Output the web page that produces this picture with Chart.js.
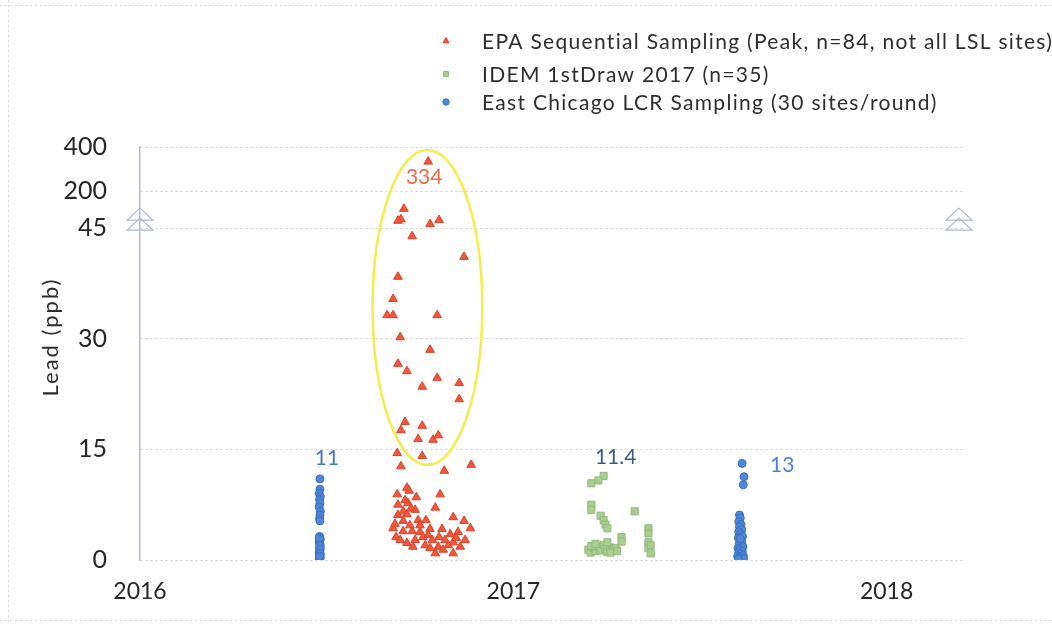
<!DOCTYPE html>
<html>
<head>
<meta charset="utf-8">
<script src="https://cdn.jsdelivr.net/npm/chart.js@4.4.1/dist/chart.umd.min.js"></script>
<style>
html,body{margin:0;padding:0;background:#ffffff;}
#wrap{width:1052px;height:625px;position:relative;}
</style>
</head>
<body>
<div id="wrap"><canvas id="c"></canvas></div>
<script>
// ---------- data ----------
const seriesNames = [
  'EPA Sequential Sampling (Peak, n=84, not all LSL sites)',
  'IDEM 1stDraw 2017 (n=35)',
  'East Chicago LCR Sampling (30 sites/round)'
];
const yAxisTitle = 'Lead (ppb)';
const xTickValues = [2016, 2017, 2018];
const xTickLabels = ['2016', '2017', '2018'];
const yTickValues = [0, 15, 30, 45, 200, 400];
const yTickLabels = ['0', '15', '30', '45', '200', '400'];

const epaDates = [
  2016.772,2016.707,2016.699,2016.691,2016.777,2016.801,2016.729,2016.868,2016.691,2016.678,
  2016.662,2016.678,2016.796,2016.697,2016.777,2016.691,2016.715,2016.796,2016.855,2016.756,
  2016.855,2016.710,2016.756,2016.699,2016.745,2016.799,2016.785,2016.689,2016.756,2016.699,
  2016.815,2016.887,2016.715,2016.721,2016.689,2016.740,2016.804,2016.691,2016.718,2016.791,
  2016.705,2016.715,2016.745,2016.705,2016.839,2016.868,2016.885,2016.678,2016.686,2016.705,
  2016.729,2016.750,2016.758,2016.777,2016.809,2016.801,2016.831,2016.852,2016.715,2016.737,
  2016.783,2016.839,2016.858,2016.731,2016.799,2016.791,2016.839,2016.723,2016.764,2016.817,
  2016.772,2016.697,2016.826,2016.710,2016.737,2016.750,2016.691,2016.777,2016.812,2016.847,
  2016.871,2016.726,2016.766,2016.683
];
const epaLead = [
  334,126,82,76,62,79,43.9,41.1,38.4,35.4,
  33.2,33.2,33.2,30.2,28.5,26.6,25.6,24.7,24.0,23.5,
  21.8,18.7,18.2,17.6,16.4,16.9,16.3,14.5,14.1,12.7,
  12.1,12.9,9.8,9.4,8.9,8.5,8.9,7.5,7.7,7.1,
  6.6,6.2,5.4,5.3,5.8,5.3,4.3,4.3,3.1,3.9,
  3.9,3.8,3.1,4.2,4.2,3.1,3.5,3.8,2.3,2.7,
  2.7,2.4,1.8,1.8,1.8,0.9,0.9,4.7,2.0,2.7,
  3.4,2.7,2.0,8.1,6.8,4.7,6.1,1.6,1.4,3.0,
  2.7,7.0,5.4,4.9
];

const idemDates = [
  2017.242,2017.228,2017.209,2017.209,2017.209,2017.234,2017.242,2017.247,2017.252,2017.325,
  2017.290,2017.290,2017.362,2017.362,2017.362,2017.362,2017.368,2017.201,2017.207,2017.215,
  2017.220,2017.228,2017.234,2017.242,2017.247,2017.252,2017.260,2017.266,2017.274,2017.209,
  2017.260,2017.220,2017.252,2017.278,2017.368
];
const idemLead = [
  11.4,10.8,10.4,7.5,6.8,6.0,5.4,4.8,4.3,6.6,
  3.1,2.5,4.3,3.6,2.4,1.6,0.9,1.4,1.0,1.6,
  1.2,1.8,1.3,2.0,1.5,1.1,1.7,1.3,1.6,1.9,
  1.0,2.2,2.4,1.2,2.0
];

const lcrRound1Dates = [
  2016.482,2016.482,2016.480,2016.483,2016.481,2016.482,2016.480,2016.483,2016.482,2016.481,
  2016.482,2016.481,2016.483,2016.480,2016.482,2016.483,2016.481,2016.482,2016.480,2016.483,
  2016.482,2016.481,2016.483,2016.482,2016.480,2016.481,2016.483,2016.482,2016.481,2016.480
];
const lcrRound1Lead = [
  11.0,9.6,9.0,8.6,8.2,7.7,7.2,6.6,6.1,5.6,
  5.3,3.2,2.8,2.5,2.2,1.9,1.6,1.3,1.0,0.8,
  0.6,0.4,0.3,0.2,0.1,2.0,1.5,0.9,0.5,3.0
];
const lcrRound2Dates = [
  2017.613,2017.618,2017.616,2017.606,2017.608,2017.604,2017.610,2017.606,2017.612,2017.604,
  2017.609,2017.614,2017.603,2017.608,2017.612,2017.605,2017.610,2017.615,2017.602,2017.607,
  2017.613,2017.604,2017.609,2017.616,2017.601,2017.606,2017.611,2017.617,2017.603,2017.608
];
const lcrRound2Lead = [
  13.1,11.3,10.2,6.1,5.7,5.2,4.8,4.5,4.1,3.8,
  3.5,3.2,3.0,2.7,2.5,2.2,2.0,1.8,1.6,1.4,
  1.2,1.0,0.8,0.6,0.5,0.4,0.3,0.2,0.1,2.9
];

// broken-axis mapping (0-45 linear, then compressed 45-200 and 200-400)
function breakAxis(v) {
  if (v <= 45) return v;
  if (v <= 200) return 45 + (v - 45) * 5 / 155;
  return 50 + (v - 200) * 6 / 200;
}
function toPoints(xs, ys) { return xs.map((x, i) => ({ x: x, y: breakAxis(ys[i]), raw: ys[i] })); }

const FONT = 'Lato, "Open Sans", "DejaVu Sans", sans-serif';
const colors = {
  epaFill: '#f0573b', epaLine: '#d8432a',
  idemFill: '#a9cf90', idemLine: '#93b87e',
  lcrFill: '#4f86d8', lcrLine: '#3c6fc2'
};

const lcrPoints = toPoints(lcrRound1Dates, lcrRound1Lead).concat(toPoints(lcrRound2Dates, lcrRound2Lead));

// annotation: ellipse around the EPA high values (data units)
const ellipseNote = { cx: 2016.770, halfW: 0.147, top: 387, bottom: 12.9 };

// value labels attached to the maximum of a group
const valueLabels = [
  { text: '334', ds: 0, idx: 0, dx: -4, dy: 16, color: '#ea6a4c' },
  { text: '11', ds: 2, idx: 0, dx: 7, dy: -21, color: '#4477c8' },
  { text: '11.4', ds: 1, idx: 0, dx: 12, dy: -19, color: '#3f5a82' },
  { text: '13', ds: 2, idx: 30, dx: 40, dy: 2, color: '#4a80d6' }
];

const overlay = {
  id: 'overlay',
  afterDatasetsDraw(chart) {
    const { ctx, scales: { x, y } } = chart;
    // ellipse
    const cx = x.getPixelForValue(ellipseNote.cx);
    const rx = Math.abs(x.getPixelForValue(ellipseNote.cx + ellipseNote.halfW) - cx);
    const yt = y.getPixelForValue(breakAxis(ellipseNote.top));
    const yb = y.getPixelForValue(breakAxis(ellipseNote.bottom));
    ctx.save();
    ctx.strokeStyle = '#f2ee4c';
    ctx.lineWidth = 2.5;
    ctx.beginPath();
    ctx.ellipse(cx, (yt + yb) / 2, rx, (yb - yt) / 2, 0, 0, Math.PI * 2);
    ctx.stroke();
    // value labels
    ctx.font = '21px ' + FONT;
    ctx.textAlign = 'center';
    ctx.textBaseline = 'middle';
    valueLabels.forEach(l => {
      const p = chart.data.datasets[l.ds].data[l.idx];
      ctx.fillStyle = l.color;
      ctx.fillText(l.text, x.getPixelForValue(p.x) + l.dx, y.getPixelForValue(p.y) + l.dy);
    });
    ctx.restore();
  },
  afterDraw(chart) {
    const { ctx, scales: { y }, chartArea: a } = chart;
    ctx.save();
    // axis break marks
    const yb = y.getPixelForValue(breakAxis(45));
    ctx.strokeStyle = '#aeb8cf';
    ctx.lineWidth = 1.2;
    [a.left, a.right - 6].forEach(bx => {
      ctx.beginPath();
      ctx.moveTo(bx - 13, yb - 8); ctx.lineTo(bx, yb - 20); ctx.lineTo(bx + 13, yb - 8); ctx.closePath();
      ctx.moveTo(bx - 13, yb + 2); ctx.lineTo(bx, yb - 10); ctx.lineTo(bx + 13, yb + 2); ctx.closePath();
      ctx.stroke();
    });
    // y title
    ctx.fillStyle = '#2e2e2e';
    ctx.font = '22px ' + FONT;
    ctx.letterSpacing = '2px';
    ctx.textAlign = 'center';
    ctx.textBaseline = 'middle';
    ctx.translate(51, 337);
    ctx.rotate(-Math.PI / 2);
    ctx.fillText(yAxisTitle, 0, 0);
    ctx.restore();

    // legend
    ctx.save();
    const rows = [41, 74, 102];
    const styles = [
      { pointStyle: 'triangle', radius: 3.5, fill: colors.epaFill, line: colors.epaLine },
      { pointStyle: 'rect', radius: 3.5, fill: colors.idemFill, line: colors.idemLine },
      { pointStyle: 'circle', radius: 3.2, fill: colors.lcrFill, line: colors.lcrLine }
    ];
    ctx.font = '21px ' + FONT;
    ctx.letterSpacing = '1.3px';
    ctx.textBaseline = 'middle';
    ctx.textAlign = 'left';
    seriesNames.forEach((name, i) => {
      ctx.fillStyle = styles[i].fill;
      ctx.strokeStyle = styles[i].line;
      Chart.helpers.drawPoint(ctx, { pointStyle: styles[i].pointStyle, radius: styles[i].radius, borderWidth: 1, rotation: 0 }, 446, rows[i]);
      ctx.fillStyle = '#2e2e2e';
      ctx.fillText(name, 482, rows[i] + 1);
    });
    ctx.letterSpacing = '0px';
    // faint scan frame
    ctx.strokeStyle = '#d6d6d6';
    ctx.setLineDash([2, 3]);
    ctx.lineWidth = 1;
    ctx.beginPath();
    ctx.moveTo(8.5, 0); ctx.lineTo(8.5, 625);
    ctx.moveTo(0, 5.5); ctx.lineTo(1052, 5.5);
    ctx.moveTo(0, 620.5); ctx.lineTo(1052, 620.5);
    ctx.stroke();
    ctx.restore();
  }
};

new Chart(document.getElementById('c'), {
  type: 'scatter',
  data: {
    datasets: [
      { label: seriesNames[0], data: toPoints(epaDates, epaLead), pointStyle: 'triangle', pointRadius: 5,
        backgroundColor: colors.epaFill, borderColor: colors.epaLine, borderWidth: 1 },
      { label: seriesNames[1], data: toPoints(idemDates, idemLead), pointStyle: 'rect', pointRadius: 5,
        backgroundColor: colors.idemFill, borderColor: colors.idemLine, borderWidth: 1 },
      { label: seriesNames[2], data: lcrPoints, pointStyle: 'circle', pointRadius: 4,
        backgroundColor: colors.lcrFill, borderColor: colors.lcrLine, borderWidth: 1 }
    ]
  },
  options: {
    responsive: true,
    maintainAspectRatio: false,
    animation: false,
    layout: { padding: { left: 0, right: 87, top: 147, bottom: 0 } },
    plugins: { legend: { display: false }, tooltip: { enabled: false } },
    scales: {
      x: {
        type: 'linear', min: 2016, max: 2018.21,
        afterBuildTicks: s => { s.ticks = xTickValues.map(v => ({ value: v })); },
        afterFit: s => { s.height = 65; },
        ticks: { callback: (v, i) => xTickLabels[i], font: { family: FONT, size: 23 }, color: '#262626',
                 padding: 18, maxRotation: 0, autoSkip: false },
        grid: { display: false, drawTicks: false },
        border: { display: false }
      },
      y: {
        type: 'linear', min: 0, max: 56,
        afterBuildTicks: s => { s.ticks = yTickValues.map(v => ({ value: breakAxis(v) })); },
        afterFit: s => { s.width = 140; },
        ticks: { callback: (v, i) => yTickLabels[i], font: { family: FONT, size: 25 }, color: '#262626',
                 padding: 33, autoSkip: false },
        grid: { color: '#cfcfcf', lineWidth: 1, drawTicks: false },
        border: { display: true, color: '#b3bdd6', width: 1.5, dash: [2, 3] }
      }
    }
  },
  plugins: [overlay]
});
</script>
</body>
</html>
